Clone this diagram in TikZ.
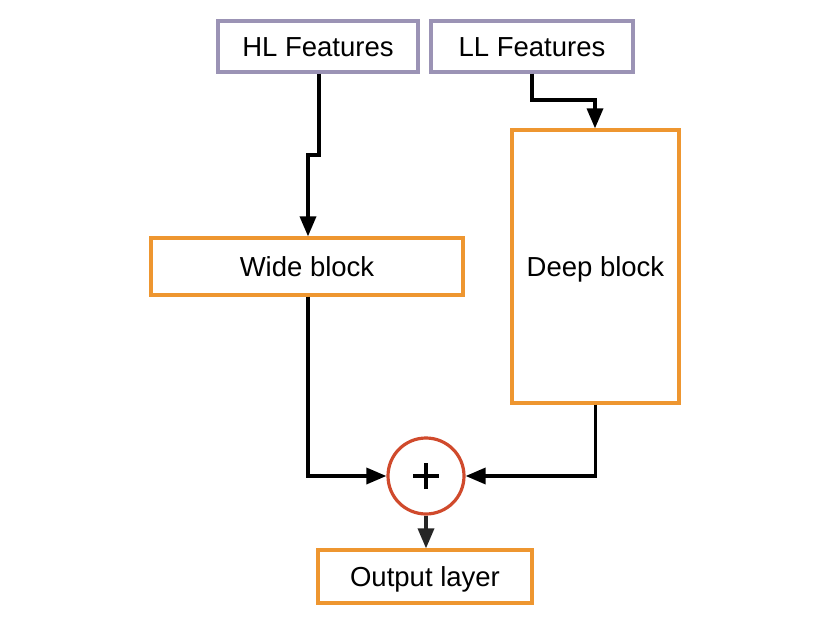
\documentclass[tikz,border=0pt]{standalone}
\usepackage{fontspec}
\setmainfont{Liberation Sans}
\usetikzlibrary{arrows.meta}
\definecolor{featc}{HTML}{9B93B5}
\definecolor{blockc}{HTML}{EE9630}
\definecolor{sumc}{HTML}{D04A2C}
\tikzset{
  feat/.style={draw=featc, line width=3.2pt, fill=white, inner sep=0pt, text height=19.7pt, text depth=0pt, font=\fontsize{27.5}{32}\selectfont},
  blockbox/.style={draw=blockc, line width=3.2pt, fill=white, inner sep=0pt, text height=19.7pt, text depth=0pt, font=\fontsize{27.5}{32}\selectfont},
  conn/.style={line width=3.4pt, -{Triangle[length=20pt,width=16pt]}},
}
\begin{document}
\begin{tikzpicture}[x=1pt,y=-1pt]
\useasboundingbox (0,0) rectangle (830,623);
\node[feat, minimum width=200pt, minimum height=51pt] (hl) at (318,46.5) {HL Features};
\node[feat, minimum width=202pt, minimum height=51pt] (ll) at (532,46.5) {LL Features};
\node[blockbox, minimum width=312pt, minimum height=57pt] (wide) at (307,266.5) {Wide block};
\node[blockbox, minimum width=167pt, minimum height=273pt] (deep) at (595.5,266.5) {Deep block};
\node[draw=sumc, line width=3.2pt, circle, minimum size=76pt, inner sep=0pt, fill=white] (sum) at (426,476) {};
\draw[line width=4.2pt] ([xshift=-13pt]sum.center) -- ([xshift=13pt]sum.center)
  ([yshift=-13pt]sum.center) -- ([yshift=13pt]sum.center);
\node[blockbox, minimum width=214pt, minimum height=53pt] (out) at (425,576.5) {Output layer};
\coordinate (hlj1) at (319,155);
\coordinate (hlj2) at (308,155);
\draw[conn] (hl.south -| hlj1) -- (hlj1) -- (hlj2) -- (hlj2 |- wide.north);
\coordinate (llj1) at (532,100);
\coordinate (llj2) at (595,100);
\draw[conn] (ll.south -| llj1) -- (llj1) -- (llj2) -- (llj2 |- deep.north);
\draw[conn] (wide.south -| hlj2) |- (sum.west);
\draw[conn] (deep.south) |- (sum.east);
\draw[conn, draw=black!85, -{Triangle[length=20pt,width=16pt, fill=black!85]}] (sum.south) -- (out.north -| sum.south);
\end{tikzpicture}
\end{document}
